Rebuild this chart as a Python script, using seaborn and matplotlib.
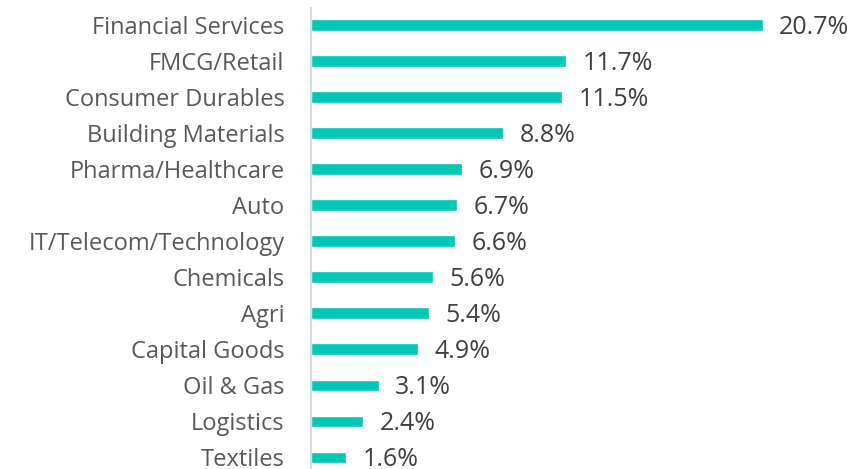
import matplotlib
matplotlib.use("Agg")
import matplotlib.pyplot as plt
import pandas as pd
import seaborn as sns

SECTORS = [
    "Financial Services", "FMCG/Retail", "Consumer Durables", "Building Materials",
    "Pharma/Healthcare", "Auto", "IT/Telecom/Technology", "Chemicals", "Agri",
    "Capital Goods", "Oil & Gas", "Logistics", "Textiles",
]
SHARES = [20.7, 11.7, 11.5, 8.8, 6.9, 6.7, 6.6, 5.6, 5.4, 4.9, 3.1, 2.4, 1.6]

TEAL = "#00C8B4"
LABEL_GREY = "#595959"
VALUE_GREY = "#404040"

sns.set_theme(style="white")
plt.rcParams["font.family"] = ["Open Sans", "DejaVu Sans"]

data = pd.DataFrame({"sector": SECTORS, "share": SHARES})

fig = plt.figure(figsize=(8.52, 4.69), dpi=100)
ax = fig.add_axes([311 / 852, 0, 1 - 311 / 852, 461 / 469])
sns.barplot(data=data, x="share", y="sector", color=TEAL, width=0.31,
            saturation=1, ax=ax)

for i, v in enumerate(SHARES):
    ax.annotate(f"{v:.1f}%", (v, i), xytext=(12, -1.5), textcoords="offset points",
                ha="left", va="center", fontsize=18, color=VALUE_GREY)

ax.set_xlim(0, 24.8)
ax.set_ylim(12.33, -0.47)
ax.set_xlabel("")
ax.set_ylabel("")
ax.set_xticks([])
ax.tick_params(axis="y", length=0, pad=19, labelsize=17, labelcolor=LABEL_GREY)
for side in ["top", "right", "bottom"]:
    ax.spines[side].set_visible(False)
ax.spines["left"].set_color("#D9D9D9")
ax.spines["left"].set_linewidth(1.5)

fig.savefig("out.png", dpi=100, facecolor="white")
